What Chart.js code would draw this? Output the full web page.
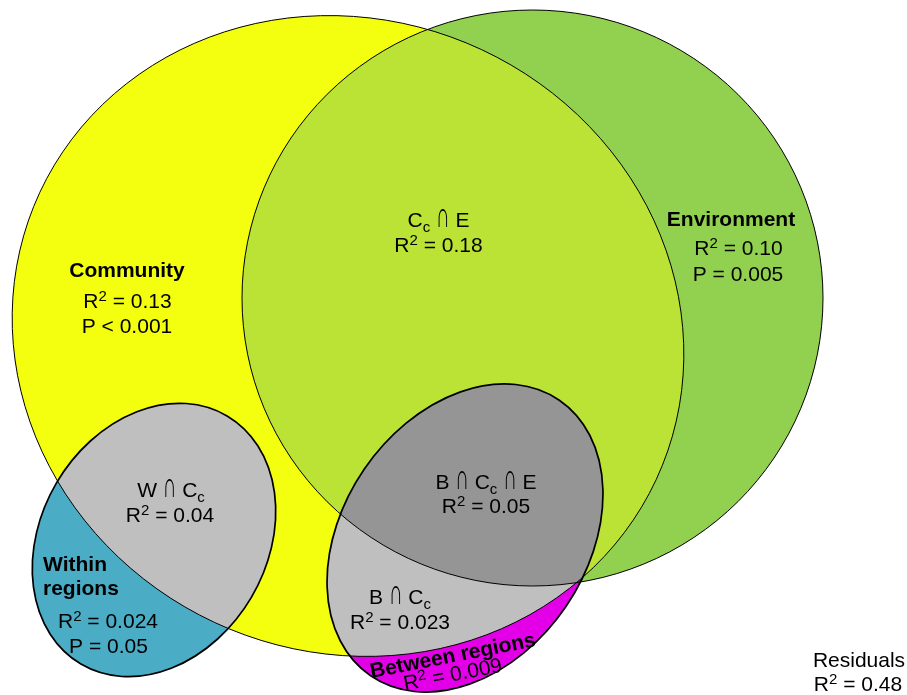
<!DOCTYPE html>
<html>
<head>
<meta charset="utf-8">
<script src="https://cdn.jsdelivr.net/npm/chart.js@4.4.1/dist/chart.umd.min.js"></script>
<style>
  html, body { margin: 0; padding: 0; background: #fff; }
  #wrap { width: 907px; height: 695px; }
</style>
</head>
<body>
<div id="wrap"><canvas id="venn" width="907" height="695"></canvas></div>
<script>
// variation partitioning: the sets, then the shared fractions
const setNames = ['Community', 'Environment', 'Within regions', 'Between regions'];
const setR2 = [0.13, 0.10, 0.024, 0.009];
const setPSign = ['<', '=', '=', null];
const setP = [0.001, 0.005, 0.05, null];
const overlapNames = ['C_c ∩ E', 'W ∩ C_c', 'B ∩ C_c ∩ E', 'B ∩ C_c'];
const overlapR2 = [0.18, 0.04, 0.05, 0.023];
const residualName = 'Residuals';
const residualR2 = 0.48;

// ellipse for each set, in axis units (x 0..907, y 0..695 downwards)
const shapes = [
    {cx: 348, cy: 336, rx: 340, ry: 316, rot: 25},
    {cx: 532.5, cy: 298, rx: 290.5, ry: 288, rot: 0},
    {cx: 154, cy: 540, rx: 113, ry: 144, rot: 30.5},
    {cx: 465, cy: 538, rx: 122, ry: 167, rot: 34.4}
];
const colors = {
    community: '#f3ff0f', environment: '#92d050', commEnv: '#bae335',
    within: '#4bacc6', between: '#e300e8', grey: '#bfbfbf', darkGrey: '#959595'
};

function fmt(v) {
    let dec = (String(v).split('.')[1] || '').length;
    return v.toFixed(Math.max(2, dec));
}
function r2(v) {
    return [['R', ''], ['2', 'sup'], [' = ' + fmt(v), '']];
}
// "_c" marks a subscript c, the ∩ sign gets its own tall glyph
function sub(name) {
    let segs = [];
    name.split('_c').forEach((p, i) => {
        if (i > 0) segs.push(['c', 'sub']);
        p.split('∩').forEach((q, j) => {
            if (j > 0) segs.push(['∩', 'cap']);
            if (q) segs.push([q, '']);
        });
    });
    return segs;
}

const F = 21;
const texts = [
    {x: 127, y: 277, bold: true, segs: [[setNames[0], '']]},
    {x: 127.5, y: 308, segs: r2(setR2[0])},
    {x: 127, y: 333, segs: [['P ' + setPSign[0] + ' ' + fmt(setP[0]), '']]},
    {x: 731, y: 226, bold: true, segs: [[setNames[1], '']]},
    {x: 738.5, y: 255, segs: r2(setR2[1])},
    {x: 738, y: 281, segs: [['P ' + setPSign[1] + ' ' + fmt(setP[1]), '']]},
    {x: 43, y: 571, bold: true, align: 'left', segs: [[setNames[2].split(' ')[0], '']]},
    {x: 43, y: 595, bold: true, align: 'left', segs: [[setNames[2].split(' ')[1], '']]},
    {x: 108, y: 628, segs: r2(setR2[2])},
    {x: 108.5, y: 653, segs: [['P ' + setPSign[2] + ' ' + fmt(setP[2]), '']]},
    {x: 454, y: 662, bold: true, angle: -11, segs: [[setNames[3], '']]},
    {x: 454, y: 681, angle: -11, segs: r2(setR2[3])},
    {x: 438.5, y: 227, segs: sub(overlapNames[0])},
    {x: 438.5, y: 252, segs: r2(overlapR2[0])},
    {x: 171, y: 497, segs: sub(overlapNames[1])},
    {x: 170, y: 522, segs: r2(overlapR2[1])},
    {x: 486, y: 489, segs: sub(overlapNames[2])},
    {x: 486, y: 513, segs: r2(overlapR2[2])},
    {x: 400, y: 604, segs: sub(overlapNames[3])},
    {x: 400, y: 629, segs: r2(overlapR2[3])},
    {x: 859, y: 667, segs: [[residualName, '']]},
    {x: 858, y: 691, segs: r2(residualR2)}
];

function fontFor(kind, bold) {
    let size = (kind === 'sup' || kind === 'sub') ? 15 : F;
    return (bold ? 'bold ' : '') + size + 'px "Liberation Sans", Arial, sans-serif';
}
const capSX = 0.9, capSY = 1.7;

function segWidth(ctx, s, bold) {
    ctx.font = fontFor(s[1], bold);
    let w = ctx.measureText(s[0]).width;
    return s[1] === 'cap' ? w * capSX : w;
}

function drawRich(ctx, t, px, py) {
    ctx.save();
    ctx.translate(px, py);
    if (t.angle) ctx.rotate(t.angle * Math.PI / 180);
    let w = 0;
    t.segs.forEach(s => { w += segWidth(ctx, s, t.bold); });
    let x = t.align === 'left' ? 0 : -w / 2;
    ctx.fillStyle = '#000';
    ctx.textBaseline = 'alphabetic';
    ctx.textAlign = 'left';
    t.segs.forEach(s => {
        ctx.font = fontFor(s[1], t.bold);
        if (s[1] === 'cap') {
            ctx.save();
            ctx.translate(x, 0);
            ctx.scale(capSX, capSY);
            ctx.fillText(s[0], 0, 0);
            ctx.restore();
        } else {
            let dy = s[1] === 'sup' ? -7 : (s[1] === 'sub' ? 5 : 0);
            ctx.fillText(s[0], x, dy);
        }
        x += segWidth(ctx, s, t.bold);
    });
    ctx.restore();
}

const vennPlugin = {
    id: 'venn',
    beforeDatasetsDraw(chart) {
        const ctx = chart.ctx;
        const xs = chart.scales.x, ys = chart.scales.y;
        const paths = shapes.map(s => {
            let px = xs.getPixelForValue(s.cx), py = ys.getPixelForValue(s.cy);
            let rx = Math.abs(xs.getPixelForValue(s.cx + s.rx) - px);
            let ry = Math.abs(ys.getPixelForValue(s.cy + s.ry) - py);
            let p = new Path2D();
            p.ellipse(px, py, rx, ry, s.rot * Math.PI / 180, 0, 2 * Math.PI);
            return p;
        });
        const fill = (p, color, clips) => {
            ctx.save();
            clips.forEach(c => ctx.clip(c));
            ctx.fillStyle = color;
            ctx.fill(p);
            ctx.restore();
        };
        fill(paths[0], colors.community, []);
        fill(paths[1], colors.environment, []);
        fill(paths[1], colors.commEnv, [paths[0]]);
        fill(paths[2], colors.within, []);
        fill(paths[2], colors.grey, [paths[0]]);
        fill(paths[3], colors.between, []);
        fill(paths[3], colors.grey, [paths[0]]);
        fill(paths[3], colors.darkGrey, [paths[0], paths[1]]);

        ctx.save();
        ctx.strokeStyle = '#000';
        ctx.lineWidth = 1;
        ctx.stroke(paths[0]);
        ctx.stroke(paths[1]);
        ctx.lineWidth = 1.7;
        ctx.stroke(paths[2]);
        ctx.stroke(paths[3]);
        ctx.restore();
    },
    afterDatasetsDraw(chart) {
        const xs = chart.scales.x, ys = chart.scales.y;
        texts.forEach(t => drawRich(chart.ctx, t, xs.getPixelForValue(t.x), ys.getPixelForValue(t.y)));
    }
};

var ctx = document.getElementById('venn').getContext('2d');
var myChart = new Chart(ctx, {
    type: 'scatter',
    data: {
        datasets: [{
            label: 'sets',
            data: shapes.map(s => ({x: s.cx, y: s.cy})),
            pointRadius: 0
        }]
    },
    options: {
        responsive: false,
        animation: false,
        events: [],
        layout: { padding: 0 },
        plugins: { legend: { display: false }, tooltip: { enabled: false } },
        scales: {
            x: { type: 'linear', min: 0, max: 907, display: false },
            y: { type: 'linear', min: 0, max: 695, reverse: true, display: false }
        }
    },
    plugins: [vennPlugin]
});
</script>
</body>
</html>
